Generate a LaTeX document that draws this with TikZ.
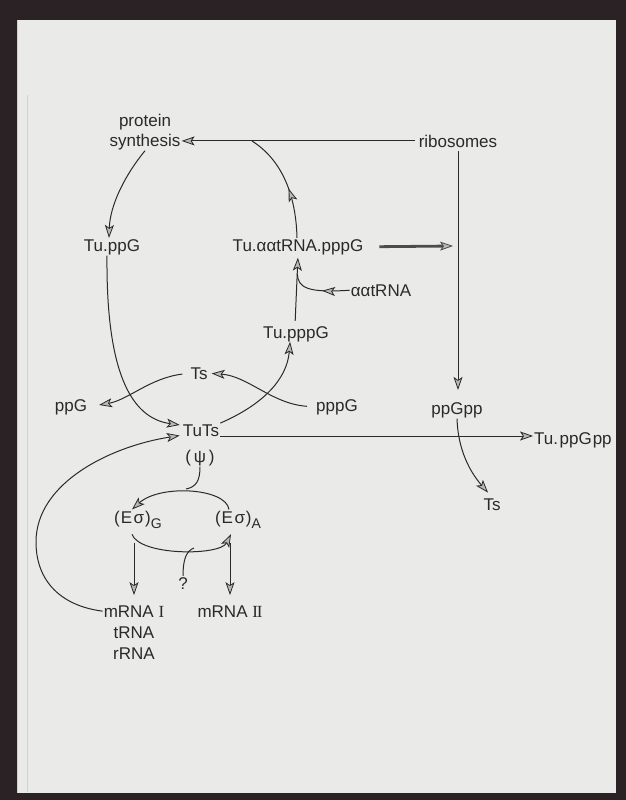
\documentclass[tikz,border=0pt]{standalone}
\usepackage{fontspec}
\setmainfont{Liberation Sans}
\newfontfamily\romfont{Liberation Serif}
\usetikzlibrary{arrows.meta,decorations.markings}
\definecolor{frame}{HTML}{2A2224}
\definecolor{paper}{HTML}{EAEAE8}
\definecolor{ink}{HTML}{2A2A2A}
\begin{document}
\begin{tikzpicture}[x=1pt,y=-1pt,
  lbl/.style={text=ink,font=\fontsize{17}{21}\selectfont,inner sep=1pt,anchor=base},
  ln/.style={draw=ink,line width=1pt},
  ar/.style={ln,-{Stealth[length=13pt,width=9pt,inset=3pt,fill=gray!55,line width=0.8pt]}},
  midarr/.style={ln,postaction={decorate,decoration={markings,mark=at position #1 with {\arrow{Stealth[length=13pt,width=9pt,inset=3pt,fill=gray!55,line width=0.8pt]}}}}},
  thickar/.style={draw=gray!60!black,line width=2.8pt,-{Stealth[length=13pt,width=9pt,inset=3pt,fill=gray!55,line width=0.8pt]}}]
\useasboundingbox (0,0) rectangle (626,800);
\fill[paper] (0,0) rectangle (626,800);
\draw[gray!35,line width=0.5pt] (27,95) -- (27,792);

% nodes
\node[lbl] (prot)  at (145,126) {protein};
\node[lbl] (synth) at (145,146) {synthesis};
\node[lbl] (ribo)  at (458,147) {ribosomes};
\node[lbl] (tuppG) at (112,251) {Tu.ppG};
\node[lbl] (tuaa)  at (298,251) {Tu.ααtRNA.pppG};
\node[lbl] (aatrna) at (381,296) {ααtRNA};
\node[lbl] (tupppG) at (296,338) {Tu.pppG};
\node[lbl] (ts1)   at (199,379) {Ts};
\node[lbl] (pppG)  at (337,411) {pppG};
\node[lbl] (ppG)   at (71,411) {ppG};
\node[lbl] (ppgpp) at (457,414) {ppGpp};
\node[lbl] (tuts)  at (201,436) {TuTs};
\node[lbl,anchor=base west] (tuppgpp) at (533,444) {Tu.\kern1.5ptppG\kern1ptpp};
\node[lbl] (psi)   at (200,462) {(\,ψ\,)};
\node[lbl] (ts2)   at (492,510) {Ts};
\node[lbl] (EG)    at (138,523) {(\kern1ptE\kern1.5ptσ\kern1pt)\raisebox{-5pt}{\fontsize{14}{14}\selectfont G}};
\node[lbl] (EA)    at (238,523) {(\kern1ptE\kern1.5ptσ\kern1pt)\raisebox{-5pt}{\fontsize{14}{14}\selectfont A}};
\node[lbl] (q)     at (183,589) {?};
\node[lbl] (mrna1) at (134,617) {mRNA {\romfont I}};
\node[lbl] (mrna2) at (230,617) {mRNA {\romfont I\kern-1.2ptI}};
\node[lbl] (trna)  at (134,638) {tRNA};
\node[lbl] (rrna)  at (134,659) {rRNA};

% junction coordinates
\coordinate (j1) at (252,141);
\coordinate (j2) at (453,246);
\coordinate (j3) at (297.3,274);
\coordinate (jA) at (186,489);
\coordinate (jB) at (194,548);

% connectors
\draw[ar,shorten <=3pt] (ribo.west) -- (ribo.west -| synth.east);
\draw[ar] (synth.south) .. controls (125,175) and (110,205) .. ([xshift=-3pt]tuppG.north);
\draw[midarr=0.45] ([xshift=-1pt]tuaa.north) .. controls (296,195) and (282,160) .. (j1);
\draw[thickar,shorten <=15pt] (tuaa.east) -- (j2);
\draw[ar,shorten <=3pt,shorten >=11pt] (ribo.south) -- (ribo.south |- ppgpp.north);
\draw[ar,shorten >=6pt] (ppgpp.south) .. controls (458,450) and (470,472) .. (ts2.north);
\draw[ar] (tuts.base east) -- (tuts.base east -| tuppgpp.west);
\draw[midarr=0.45] (aatrna.west) .. controls (308,293) and (298,288) .. (j3);
\draw[ar,shorten <=4pt,shorten >=2pt] ([xshift=-1pt]tupppG.north) -- (tuaa.south);
\draw[ar,shorten >=-1pt] (tuts.north east) .. controls (262,405) and (287,380) .. ([xshift=-6pt]tupppG.south);
\draw[ar,shorten <=8pt,shorten >=3pt] (pppG.west) .. controls (272,404) and (248,376) .. (ts1.east);
\draw[ar,shorten <=7pt,shorten >=11pt] (ts1.west) .. controls (150,378) and (128,400) .. (ppG.east);
\draw[ar,shorten >=2pt] ([xshift=-5pt]tuppG.south) .. controls (106,370) and (130,418) .. ([yshift=5pt]tuts.west);
\draw[ln] (psi.south) .. controls (200,481) and (196,487) .. (jA);
\draw[ar] ([xshift=-9pt]EA.north) .. controls (226,488) and (160,484) .. ([xshift=-6pt]EG.north);
\draw[ar] ([xshift=-6pt,yshift=-5pt]EG.south) .. controls (140,556) and (220,556) .. ([xshift=-7pt,yshift=-5pt]EA.south);
\draw[ln] (q.north) .. controls (183,560) and (186,551) .. (jB);
\draw[ar,shorten <=14pt,shorten >=9pt] (mrna1.north |- EG.south) -- (mrna1.north);
\draw[ar,shorten <=14pt,shorten >=9pt] (mrna2.north |- EA.south) -- (mrna2.north);
\draw[ar,shorten >=2pt] (mrna1.west) .. controls (62,606) and (36,582) .. (36,542)
      .. controls (36,482) and (112,446) .. ([yshift=-5pt]tuts.west);

% frame of the scanned sheet
\fill[frame,even odd rule] (0,0) rectangle (626,800) (17,20) rectangle (616,793);
\end{tikzpicture}
\end{document}
